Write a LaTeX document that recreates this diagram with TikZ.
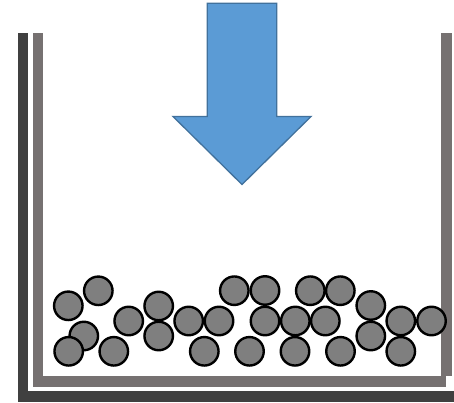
\documentclass[tikz,border=0pt]{standalone}
\usetikzlibrary{shapes.geometric}
\definecolor{walldark}{HTML}{404040}
\definecolor{wallgray}{HTML}{767171}
\definecolor{ballgray}{HTML}{7F7F7F}
\definecolor{arrowfill}{HTML}{5B9BD5}
\definecolor{arrowline}{HTML}{41719C}
\tikzset{
  ball/.style={circle, draw=black, fill=ballgray, line width=2.4pt, minimum size=28.5pt, inner sep=0pt, outer sep=0pt},
  bigarrow/.style={fill=arrowfill, draw=arrowline, line width=1.3pt, line join=miter},
}
\begin{document}
\begin{tikzpicture}[x=1pt,y=-1pt]
\useasboundingbox (0,0) rectangle (454,403);
% outer dark container
\fill[walldark] (17.5,33.3) rectangle (28.3,401.7);
\fill[walldark] (17.5,390.8) rectangle (454,401.7);
% inner gray container
\fill[wallgray] (33,33.3) rectangle (43.3,386.7);
\fill[wallgray] (33,376) rectangle (446,386.7);
\fill[wallgray] (441,33.3) rectangle (451.7,376);
% arrow
\draw[bigarrow] (207.3,3.3) -- (276.7,3.3) -- (276.7,116.5) -- (311,116.5) -- (242,184.5) -- (173,116.5) -- (207.3,116.5) -- cycle;
% balls: top row
\node[ball] (b1) at (68.3,305.8) {};
\node[ball] (b2) at (98.3,290.8) {};
\node[ball] (b3) at (158.7,306) {};
\node[ball] (b4) at (234.3,290.7) {};
\node[ball] (b5) at (265,290.5) {};
\node[ball] (b6) at (310.3,290.7) {};
\node[ball] (b7) at (340.3,290.7) {};
\node[ball] (b8) at (370.8,305.5) {};
% middle row
\node[ball] (b9) at (128.7,321) {};
\node[ball] (b10) at (188.7,321) {};
\node[ball] (b11) at (219,321) {};
\node[ball] (b12) at (265,321) {};
\node[ball] (b13) at (295.3,321) {};
\node[ball] (b14) at (325.3,321) {};
\node[ball] (b15) at (400.8,321) {};
\node[ball] (b16) at (431.5,321) {};
\node[ball] (b17) at (83.8,336) {};
\node[ball] (b18) at (158.7,336) {};
\node[ball] (b19) at (370.8,336) {};
% bottom row
\node[ball] (b20) at (68.7,351.3) {};
\node[ball] (b21) at (113.8,351.3) {};
\node[ball] (b22) at (204.3,351.3) {};
\node[ball] (b23) at (249.5,351.3) {};
\node[ball] (b24) at (295,351.3) {};
\node[ball] (b25) at (340.5,351.3) {};
\node[ball] (b26) at (400.8,351.3) {};
\end{tikzpicture}
\end{document}
